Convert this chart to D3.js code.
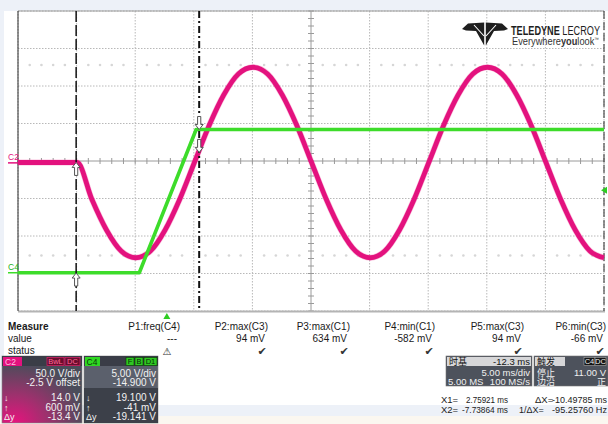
<!DOCTYPE html>
<html><head><meta charset="utf-8">
<script src="https://cdn.jsdelivr.net/npm/d3@7"></script>
<style>
html,body{margin:0;padding:0;background:#fff;}
svg{display:block;font-family:"Liberation Sans",Arial,sans-serif;}
</style></head><body>
<svg id="c" width="608" height="424"></svg>
<script>
// ---------- data ----------
// time in ms, level in screen divisions
const screenTime = [-12.7, 37.3];
const screenDivs = [-4, 4];
const gridTimes = [-12.7, -7.7, -2.7, 2.3, 7.3, 12.3, 17.3, 22.3, 27.3, 32.3, 37.3];
const gridDivs = [-4, -3, -2, -1, 0, 1, 2, 3, 4];
const centerTime = 12.3;
const levelRows = [2.56, -2.52];

const c2Time = [-12.7, -7.65, -6.4, -5.15, -3.9, -2.65, -1.4, -0.15, 1.1, 2.35, 3.6, 4.85, 6.1, 7.35, 8.6, 9.85,
  11.1, 12.35, 13.6, 14.85, 16.1, 17.35, 18.6, 19.85, 21.1, 22.35, 23.6, 24.85, 26.1, 27.35, 28.6, 29.85,
  31.1, 32.35, 33.6, 34.85, 36.1, 37.3];
const c2Div = [-0.04, -0.04, -1.02, -1.84, -2.40, -2.58, -2.40, -1.84, -1.02, -0.04, 0.94, 1.76, 2.32, 2.50, 2.32, 1.76,
  0.94, -0.04, -1.02, -1.84, -2.40, -2.58, -2.40, -1.84, -1.02, -0.04, 0.94, 1.76, 2.32, 2.50, 2.32, 1.76,
  0.94, -0.04, -1.02, -1.84, -2.40, -2.58];

const c4Time = [-12.7, -2.35, 2.5, 37.3];
const c4Div = [-2.98, -2.98, 0.84, 0.84];

const c2VoltsPerDiv = 50, c2OffsetV = -2.5;
const c4VoltsPerDiv = 5, c4OffsetV = -14.9;
const x1Time = 2.75921, x2Time = -7.73864;
const c2CursorVolts = [14.0, 0.6];    // at X1, at X2
const c4CursorVolts = [19.1, -0.041]; // at X1, at X2
const triggerTime = 0, triggerVolts = 11.0;

const measureNames = ["P1:freq(C4)", "P2:max(C3)", "P3:max(C1)", "P4:min(C1)", "P5:max(C3)", "P6:min(C3)"];
const measureValues = ["---", "94 mV", "634 mV", "-582 mV", "94 mV", "-66 mV"];
const measureStatus = ["warn", "ok", "ok", "ok", "ok", "ok"];

const c2Lines = ["50.0 V/div", "-2.5 V offset", "14.0 V", "600 mV", "-13.4 V"];
const c4Lines = ["5.00 V/div", "-14.900 V", "19.100 V", "-41 mV", "-19.141 V"];
const cursorSymbols = ["", "", "↓", "↑", "Δy"];

// ---------- drawing ----------
const svg = d3.select("#c");
const W = 608, H = 424;
const L = 18, R = 604, T = 11, B = 311;
const x = d3.scaleLinear().domain(screenTime).range([L, R]);
const y = d3.scaleLinear().domain(screenDivs).range([B, T]);
const c2ToDiv = v => (v + c2OffsetV) / c2VoltsPerDiv;
const c4ToDiv = v => (v + c4OffsetV) / c4VoltsPerDiv;

const MAG = "#e3127e", GRN = "#3ddc2a";

// backgrounds
svg.append("rect").attr("width", W).attr("height", H).attr("fill", "#edf1f8");
svg.append("rect").attr("x", 4).attr("y", T).attr("width", W - 4).attr("height", 405 - T).attr("fill", "#ffffff");
svg.append("rect").attr("x", 0).attr("y", 416).attr("width", W).attr("height", 8).attr("fill", "#fbf7f0");

const plot = svg.append("g");
// grid
plot.selectAll("line.gx").data(gridTimes.filter(t => t !== centerTime)).join("line")
  .attr("x1", d => x(d)).attr("x2", d => x(d)).attr("y1", T).attr("y2", B)
  .attr("stroke", "#b8b8b8").attr("stroke-dasharray", "1.5,1.5");
plot.selectAll("line.gy").data(gridDivs.filter(d => d !== 0)).join("line")
  .attr("y1", d => y(d)).attr("y2", d => y(d)).attr("x1", L).attr("x2", R)
  .attr("stroke", "#b8b8b8").attr("stroke-dasharray", "1.5,1.5");

// level dotted rows
const minorT = d3.range(screenTime[0], screenTime[1] + 0.01, 1).filter((t, i) => i % 5 !== 0);
levelRows.forEach(lv => {
  plot.selectAll(null).data(minorT).join("circle")
    .attr("cx", d => x(d)).attr("cy", y(lv)).attr("r", 1.3).attr("fill", "#d6d6d6");
});

// center lines with ticks
plot.append("line").attr("x1", L).attr("x2", R).attr("y1", y(0)).attr("y2", y(0)).attr("stroke", "#9a9a9a");
plot.append("line").attr("x1", x(centerTime)).attr("x2", x(centerTime)).attr("y1", T).attr("y2", B).attr("stroke", "#9a9a9a");
plot.selectAll(null).data(d3.range(screenTime[0], screenTime[1] + 0.01, 1)).join("line")
  .attr("x1", d => x(d)).attr("x2", d => x(d)).attr("y1", y(0) - 3).attr("y2", y(0) + 3).attr("stroke", "#9a9a9a");
plot.selectAll(null).data(d3.range(-4, 4.01, 0.2)).join("line")
  .attr("y1", d => y(d)).attr("y2", d => y(d)).attr("x1", x(centerTime) - 3).attr("x2", x(centerTime) + 3).attr("stroke", "#9a9a9a");

// borders
plot.append("line").attr("x1", L).attr("x2", R).attr("y1", T).attr("y2", T).attr("stroke", "#9c9c9c");
plot.append("line").attr("x1", L).attr("x2", R + 1).attr("y1", B + 0.5).attr("y2", B + 0.5).attr("stroke", "#b4b4b4").attr("stroke-width", 2);
plot.append("line").attr("x1", L).attr("x2", L).attr("y1", T).attr("y2", B).attr("stroke", "#2a2a2a");
plot.append("line").attr("x1", R).attr("x2", R).attr("y1", T).attr("y2", B).attr("stroke", "#2a2a2a").attr("stroke-dasharray", "8,3");

// traces
const c2Data = c2Time.map((t, i) => [t, c2Div[i]]);
const c4Data = c4Time.map((t, i) => [t, c4Div[i]]);
const line = d3.line().x(d => x(d[0])).y(d => y(d[1]));
plot.append("path").datum(c2Data).attr("d", line.curve(d3.curveMonotoneX))
  .attr("fill", "none").attr("stroke", "#f0449a").attr("stroke-width", 6).attr("stroke-opacity", 0.35);
plot.append("path").datum(c2Data).attr("d", line.curve(d3.curveMonotoneX))
  .attr("fill", "none").attr("stroke", MAG).attr("stroke-width", 4.8).attr("stroke-linejoin", "round");
plot.append("path").datum(c4Data).attr("d", d3.line().x(d => x(d[0])).y(d => y(d[1])))
  .attr("fill", "none").attr("stroke", GRN).attr("stroke-width", 3.6).attr("stroke-linejoin", "round");

// cursors
plot.append("line").attr("x1", x(x2Time)).attr("x2", x(x2Time)).attr("y1", T).attr("y2", B)
  .attr("stroke", "#111").attr("stroke-width", 1.5).attr("stroke-dasharray", "11,3");
plot.append("line").attr("x1", x(x1Time)).attr("x2", x(x1Time)).attr("y1", T).attr("y2", B)
  .attr("stroke", "#111").attr("stroke-width", 2).attr("stroke-dasharray", "7,3,2,3");

function arrow(cx, cy, dir) { // dir -1 up (tip at top), +1 down (tip at bottom)
  const s = -dir;
  const pts = [[0, 0], [4, 5 * s], [1.6, 5 * s], [1.6, 13 * s], [-1.6, 13 * s], [-1.6, 5 * s], [-4, 5 * s]];
  return "M" + pts.map(p => (cx + p[0]) + "," + (cy + p[1])).join("L") + "Z";
}
const arrows = [
  [x2Time, c2ToDiv(c2CursorVolts[1]), -1], [x2Time, c4ToDiv(c4CursorVolts[1]), -1],
  [x1Time, c2ToDiv(c2CursorVolts[0]), 1], [x1Time, c4ToDiv(c4CursorVolts[0]), 1]
];
plot.selectAll(null).data(arrows).join("path")
  .attr("d", d => arrow(x(d[0]), y(d[1]), d[2]))
  .attr("fill", "#fff").attr("stroke", "#555").attr("stroke-width", 1);

// channel ground markers
svg.append("text").attr("x", 8).attr("y", y(c2ToDiv(0)) - 3).attr("font-size", 8.5).attr("fill", MAG).text("C2");
svg.append("line").attr("x1", 8).attr("x2", L).attr("y1", y(c2ToDiv(0))).attr("y2", y(c2ToDiv(0))).attr("stroke", MAG).attr("stroke-width", 1.5);
svg.append("text").attr("x", 8).attr("y", y(c4ToDiv(0)) - 3).attr("font-size", 8.5).attr("fill", "#22b01a").text("C4");
svg.append("line").attr("x1", 8).attr("x2", L).attr("y1", y(c4ToDiv(0))).attr("y2", y(c4ToDiv(0))).attr("stroke", GRN).attr("stroke-width", 1.5);

// trigger markers
const tx = x(triggerTime);
svg.append("path").attr("d", `M${tx},${B + 2}L${tx + 3.5},${B + 8}L${tx - 3.5},${B + 8}Z`).attr("fill", "#2ecc22");
const ty = y(c4ToDiv(triggerVolts));
svg.append("path").attr("d", `M${R - 3},${ty}L${R + 3},${ty - 3.5}L${R + 3},${ty + 3.5}Z`).attr("fill", "#2ecc22");

// logo
const logo = svg.append("g");
logo.append("path").attr("d", "M462,29 L468,23.5 L484.2,22.5 L484.2,45.5 L476,31 L466,30.5 Z").attr("fill", "#1e1e1e");
logo.append("path").attr("d", "M508,29 L502,23.5 L485.8,22.5 L485.8,45.5 L494,31 L504,30.5 Z").attr("fill", "#1e1e1e");
logo.append("path").attr("d", "M474,25 L484,36 M496,25 L486,36").attr("stroke", "#fff").attr("stroke-width", 1.1);
const t1 = logo.append("text").attr("x", 511).attr("y", 34.5).attr("font-size", 12).attr("fill", "#1e1e1e")
  .attr("textLength", 89).attr("lengthAdjust", "spacingAndGlyphs");
t1.append("tspan").attr("font-weight", "bold").text("TELEDYNE");
t1.append("tspan").text(" LECROY");
const t2 = logo.append("text").attr("x", 512).attr("y", 45).attr("font-size", 10).attr("fill", "#333")
  .attr("textLength", 87).attr("lengthAdjust", "spacingAndGlyphs");
t2.append("tspan").text("Everywhere");
t2.append("tspan").attr("font-weight", "bold").text("you");
t2.append("tspan").text("look");
t2.append("tspan").attr("font-size", 5).attr("dy", -4).text("™");

// measure table
const colRight = [180, 268, 350, 435, 524, 606];
const fs = 10;
svg.append("text").attr("x", 8).attr("y", 330).attr("font-size", fs).attr("font-weight", "bold").attr("fill", "#1a1a1a").text("Measure");
svg.append("text").attr("x", 8).attr("y", 342).attr("font-size", fs).attr("fill", "#1a1a1a").text("value");
svg.append("text").attr("x", 8).attr("y", 354).attr("font-size", fs).attr("fill", "#1a1a1a").text("status");
svg.selectAll(null).data(measureNames).join("text")
  .attr("x", (d, i) => colRight[i]).attr("y", 330).attr("text-anchor", "end").attr("font-size", fs).attr("fill", "#1a1a1a").text(d => d);
svg.selectAll(null).data(measureValues).join("text")
  .attr("x", (d, i) => colRight[i] - 3).attr("y", 342).attr("text-anchor", "end").attr("font-size", fs).attr("fill", "#1a1a1a").text(d => d);
svg.selectAll(null).data(measureStatus).join("text")
  .attr("x", (d, i) => colRight[i] - (d === "warn" ? 13 : 6)).attr("y", 355).attr("text-anchor", "middle")
  .attr("font-family", "DejaVu Sans").attr("font-size", d => d === "warn" ? 10 : 11).attr("fill", "#333")
  .text(d => d === "warn" ? "⚠" : "✔");

// channel boxes
const defs = svg.append("defs");
const rg = defs.append("radialGradient").attr("id", "magGlow").attr("cx", "0.15").attr("cy", "1").attr("r", "0.9");
rg.append("stop").attr("offset", "0").attr("stop-color", "#e8127e");
rg.append("stop").attr("offset", "0.45").attr("stop-color", "#a0306e");
rg.append("stop").attr("offset", "1").attr("stop-color", "#4a4d5a");

function chanBox(bx, w, lines, fillBody, fillLower) {
  const g = svg.append("g");
  g.append("rect").attr("x", bx).attr("y", 356).attr("width", w).attr("height", 67).attr("fill", fillBody).attr("stroke", "#888").attr("stroke-width", 0.6);
  if (fillLower) g.append("rect").attr("x", bx).attr("y", 388).attr("width", w).attr("height", 35).attr("fill", fillLower);
  g.append("rect").attr("x", bx).attr("y", 356).attr("width", w).attr("height", 10).attr("fill", "#3a3d47");
  const ys = [377, 386, 401, 410.5, 420];
  g.selectAll(null).data(lines).join("text")
    .attr("x", bx + w - 2).attr("y", (d, i) => ys[i]).attr("text-anchor", "end")
    .attr("font-size", 10).attr("fill", "#f2f2f2").text(d => d);
  g.selectAll(null).data(cursorSymbols).join("text")
    .attr("x", bx + 2).attr("y", (d, i) => ys[i]).attr("font-size", 9).attr("fill", "#f2f2f2").text(d => d);
  return g;
}
const g2 = chanBox(2, 80, c2Lines, "url(#magGlow)", null);
g2.append("rect").attr("x", 3).attr("y", 357).attr("width", 19).attr("height", 9).attr("fill", MAG);
g2.append("text").attr("x", 5).attr("y", 364.5).attr("font-size", 8.5).attr("fill", "#ffc0e0").text("C2");
g2.append("rect").attr("x", 47).attr("y", 357.5).attr("width", 17).attr("height", 8).attr("fill", "#6a0d2e").attr("stroke", "#e0206a").attr("stroke-width", 0.7);
g2.append("text").attr("x", 55.5).attr("y", 364.3).attr("text-anchor", "middle").attr("font-size", 7.5).attr("fill", "#ff6a9a").text("BwL");
g2.append("rect").attr("x", 65).attr("y", 357.5).attr("width", 15).attr("height", 8).attr("fill", "#6a0d2e").attr("stroke", "#e0206a").attr("stroke-width", 0.7);
g2.append("text").attr("x", 72.5).attr("y", 364.3).attr("text-anchor", "middle").attr("font-size", 7.5).attr("fill", "#ff6a9a").text("DC");

const g4 = chanBox(84, 74, c4Lines, "#5b606c", "#3c4049");
g4.append("rect").attr("x", 85).attr("y", 357).attr("width", 15).attr("height", 9).attr("fill", "#2fd822");
g4.append("text").attr("x", 86.5).attr("y", 364.5).attr("font-size", 8.5).attr("fill", "#0b3a08").text("C4");
[["F", 126, 8], ["B", 135, 8], ["D1", 144, 13]].forEach(([s, bx, bw]) => {
  g4.append("rect").attr("x", bx).attr("y", 357.5).attr("width", bw).attr("height", 8).attr("fill", "#2fc822").attr("stroke", "#0a3a08").attr("stroke-width", 0.6);
  g4.append("text").attr("x", bx + bw / 2).attr("y", 364.3).attr("text-anchor", "middle").attr("font-size", 7.5).attr("fill", "#0a2a08").text(s);
});

// timebase box
const tb = svg.append("g");
tb.append("rect").attr("x", 446).attr("y", 356).attr("width", 86).attr("height", 30).attr("fill", "#4d525c").attr("stroke", "#777").attr("stroke-width", 0.6);
tb.append("rect").attr("x", 447).attr("y", 357).attr("width", 84).attr("height", 9).attr("fill", "#d6d6d8");
tb.append("text").attr("x", 449).attr("y", 365).attr("font-size", 9).attr("font-family", "Noto Sans CJK SC").attr("fill", "#111").text("时基");
tb.append("text").attr("x", 530).attr("y", 365).attr("text-anchor", "end").attr("font-size", 9.5).attr("fill", "#111").text("-12.3 ms");
tb.append("text").attr("x", 530).attr("y", 376).attr("text-anchor", "end").attr("font-size", 9.5).attr("fill", "#f0f0f0").text("5.00 ms/div");
tb.append("text").attr("x", 448).attr("y", 385).attr("font-size", 9.5).attr("fill", "#f0f0f0").text("5.00 MS");
tb.append("text").attr("x", 530).attr("y", 385).attr("text-anchor", "end").attr("font-size", 9.5).attr("fill", "#f0f0f0").text("100 MS/s");

// trigger box
const tr = svg.append("g");
tr.append("rect").attr("x", 534).attr("y", 356).attr("width", 74).attr("height", 30).attr("fill", "#4d525c").attr("stroke", "#777").attr("stroke-width", 0.6);
tr.append("rect").attr("x", 535).attr("y", 357).attr("width", 30).attr("height", 9).attr("fill", "#d6d6d8");
tr.append("text").attr("x", 537).attr("y", 365).attr("font-size", 9).attr("font-family", "Noto Sans CJK SC").attr("fill", "#111").text("触发");
[["C4", 584, 11], ["DC", 595, 11]].forEach(([s, bx, bw]) => {
  tr.append("rect").attr("x", bx).attr("y", 357.5).attr("width", bw).attr("height", 8).attr("fill", "#151515").attr("stroke", "#aaa").attr("stroke-width", 0.6);
  tr.append("text").attr("x", bx + bw / 2).attr("y", 364.3).attr("text-anchor", "middle").attr("font-size", 7.5).attr("fill", "#eee").text(s);
});
tr.append("text").attr("x", 537).attr("y", 376).attr("font-size", 9).attr("font-family", "Noto Sans CJK SC").attr("fill", "#f0f0f0").text("停止");
tr.append("text").attr("x", 606).attr("y", 376).attr("text-anchor", "end").attr("font-size", 9.5).attr("fill", "#f0f0f0").text("11.00 V");
tr.append("text").attr("x", 537).attr("y", 385).attr("font-size", 9).attr("font-family", "Noto Sans CJK SC").attr("fill", "#f0f0f0").text("边沿");
tr.append("text").attr("x", 606).attr("y", 385).attr("text-anchor", "end").attr("font-size", 9).attr("font-family", "Noto Sans CJK SC").attr("fill", "#f0f0f0").text("正");

// cursor readouts
const ro = svg.append("g").attr("font-size", 9.5).attr("fill", "#222");
ro.append("text").attr("x", 441).attr("y", 403).text("X1=");
ro.append("text").attr("x", 508).attr("y", 403).attr("text-anchor", "end").attr("textLength", 42).attr("lengthAdjust", "spacingAndGlyphs").text("2.75921 ms");
ro.append("text").attr("x", 535).attr("y", 403).text("ΔX=");
ro.append("text").attr("x", 552).attr("y", 403).attr("textLength", 55).attr("lengthAdjust", "spacingAndGlyphs").text("-10.49785 ms");
ro.append("text").attr("x", 441).attr("y", 413).text("X2=");
ro.append("text").attr("x", 508).attr("y", 413).attr("text-anchor", "end").attr("textLength", 46).attr("lengthAdjust", "spacingAndGlyphs").text("-7.73864 ms");
ro.append("text").attr("x", 519).attr("y", 413).attr("font-size", 9).text("1/ΔX=");
ro.append("text").attr("x", 552).attr("y", 413).attr("textLength", 55).attr("lengthAdjust", "spacingAndGlyphs").text("-95.25760 Hz");
</script>
</body></html>
